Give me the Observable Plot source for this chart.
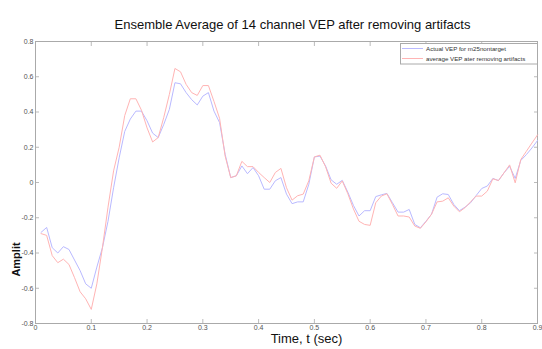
<!DOCTYPE html>
<html>
<head>
<meta charset="utf-8">
<script src="https://cdn.jsdelivr.net/npm/d3@7"></script>
<script src="https://cdn.jsdelivr.net/npm/@observablehq/plot@0.6"></script>
<style>
  html, body { margin: 0; padding: 0; background: white; }
  #wrap { position: relative; width: 542px; height: 349px; overflow: hidden; }
  #legend { position: absolute; left: 0; top: 0; }
</style>
</head>
<body>
<div id="wrap"></div>
<script>
const title = "Ensemble Average of 14 channel VEP after removing artifacts";
const xLabel = "Time, t (sec)";
const yLabel = "Amplit";
const seriesNames = ["Actual VEP for m25nontarget", "average VEP ater removing artifacts"];
const xTicks = [0, 0.1, 0.2, 0.3, 0.4, 0.5, 0.6, 0.7, 0.8, 0.9];
const yTicks = [-0.8, -0.6, -0.4, -0.2, 0, 0.2, 0.4, 0.6, 0.8];

const time = [
  0.01,0.02,0.03,0.04,0.05,0.06,0.07,0.08,0.09,0.10,
  0.11,0.12,0.13,0.14,0.15,0.16,0.17,0.18,0.19,0.20,
  0.21,0.22,0.23,0.24,0.25,0.26,0.27,0.28,0.29,0.30,
  0.31,0.32,0.33,0.34,0.35,0.36,0.37,0.38,0.39,0.40,
  0.41,0.42,0.43,0.44,0.45,0.46,0.47,0.48,0.49,0.50,
  0.51,0.52,0.53,0.54,0.55,0.56,0.57,0.58,0.59,0.60,
  0.61,0.62,0.63,0.64,0.65,0.66,0.67,0.68,0.69,0.70,
  0.71,0.72,0.73,0.74,0.75,0.76,0.77,0.78,0.79,0.80,
  0.81,0.82,0.83,0.84,0.85,0.86,0.87,0.88,0.89,0.90
];
const actualVEP = [
  -0.283,-0.255,-0.37,-0.40,-0.364,-0.38,-0.44,-0.50,-0.575,-0.60,
  -0.48,-0.37,-0.22,-0.03,0.14,0.29,0.36,0.405,0.405,0.35,
  0.28,0.255,0.33,0.415,0.566,0.56,0.51,0.47,0.44,0.49,
  0.51,0.405,0.34,0.16,0.028,0.038,0.094,0.05,0.085,0.038,
  -0.038,-0.038,0.01,0.028,-0.066,-0.12,-0.11,-0.11,-0.01,0.145,
  0.15,0.094,0.015,-0.01,0.012,-0.055,-0.13,-0.19,-0.16,-0.16,
  -0.08,-0.07,-0.062,-0.115,-0.168,-0.168,-0.153,-0.238,-0.257,-0.22,
  -0.18,-0.083,-0.064,-0.068,-0.125,-0.16,-0.14,-0.115,-0.074,-0.034,
  -0.02,0.023,0.011,0.055,0.092,0.023,0.125,0.158,0.196,0.238
];
const cleanedVEP = [
  -0.29,-0.30,-0.415,-0.455,-0.435,-0.465,-0.54,-0.62,-0.66,-0.72,
  -0.575,-0.37,-0.14,0.066,0.20,0.38,0.475,0.475,0.41,0.31,
  0.23,0.255,0.37,0.50,0.647,0.628,0.557,0.51,0.494,0.55,
  0.55,0.46,0.364,0.15,0.028,0.038,0.12,0.09,0.09,0.057,
  0.028,0.0,0.057,0.08,-0.03,-0.10,-0.075,-0.066,0.01,0.145,
  0.155,0.09,-0.004,-0.033,0.009,-0.064,-0.15,-0.22,-0.238,-0.243,
  -0.115,-0.077,-0.064,-0.125,-0.19,-0.19,-0.196,-0.247,-0.26,-0.223,
  -0.18,-0.11,-0.106,-0.087,-0.134,-0.166,-0.143,-0.11,-0.077,-0.077,
  -0.049,0.021,0.011,0.055,0.10,-0.002,0.13,0.177,0.224,0.27
];

const blue = "rgb(185,185,255)";
const red = "rgb(255,180,180)";
const rows = time.map((t, i) => ({t, actual: actualVEP[i], clean: cleanedVEP[i]}));
const fmt = d => String(+d.toFixed(1));
const none = () => "";

const chart = Plot.plot({
  width: 542, height: 349,
  marginLeft: 35, marginRight: 5, marginTop: 41, marginBottom: 26,
  x: {domain: [0, 0.9]},
  y: {domain: [-0.8, 0.8]},
  style: {fontFamily: "'Liberation Sans', Arial, sans-serif", fontSize: "7px", color: "#555", background: "white"},
  marks: [
    Plot.axisX({anchor: "bottom", ticks: xTicks, tickSize: -4, tickPadding: 6, tickFormat: fmt, label: null, stroke: "#bbb"}),
    Plot.axisX({anchor: "top", ticks: xTicks, tickSize: -4, tickFormat: none, label: null, stroke: "#bbb"}),
    Plot.axisY({anchor: "left", ticks: yTicks, tickSize: -4, tickPadding: 6, tickFormat: fmt, label: null, stroke: "#bbb"}),
    Plot.axisY({anchor: "right", ticks: yTicks, tickSize: -4, tickFormat: none, label: null, stroke: "#bbb"}),
    Plot.frame({stroke: "#aaa"}),
    Plot.line(rows, {x: "t", y: "actual", stroke: blue, strokeWidth: 1}),
    Plot.line(rows, {x: "t", y: "clean", stroke: red, strokeWidth: 1}),
    Plot.text([title], {frameAnchor: "top", dx: 6, dy: -22, fontSize: 13, fill: "#111"}),
    Plot.text([xLabel], {frameAnchor: "bottom", dx: 20, dy: 19, fontSize: 13, fill: "#111"}),
    Plot.text([yLabel], {frameAnchor: "bottom-left", dx: -16, dy: -64, rotate: -90, fontSize: 11, fontWeight: "bold", fill: "#111", textAnchor: "middle"})
  ]
});
const wrap = document.getElementById("wrap");
wrap.appendChild(chart);

// legend overlay
const lg = d3.select(wrap).append("svg").attr("id", "legend")
  .attr("width", 542).attr("height", 349)
  .style("font-family", "'Liberation Sans', Arial, sans-serif");
lg.append("rect").attr("x", 400.5).attr("y", 43.5).attr("width", 137).attr("height", 20.5)
  .attr("fill", "white").attr("stroke", "#aaa");
[blue, red].forEach((c, i) => {
  const yy = 48.5 + i * 10;
  lg.append("line").attr("x1", 402).attr("x2", 423).attr("y1", yy).attr("y2", yy).attr("stroke", c);
  lg.append("text").attr("x", 426).attr("y", yy).attr("dy", "0.35em")
    .attr("font-size", 6.2).attr("fill", "#333").text(seriesNames[i]);
});
</script>
</body>
</html>
